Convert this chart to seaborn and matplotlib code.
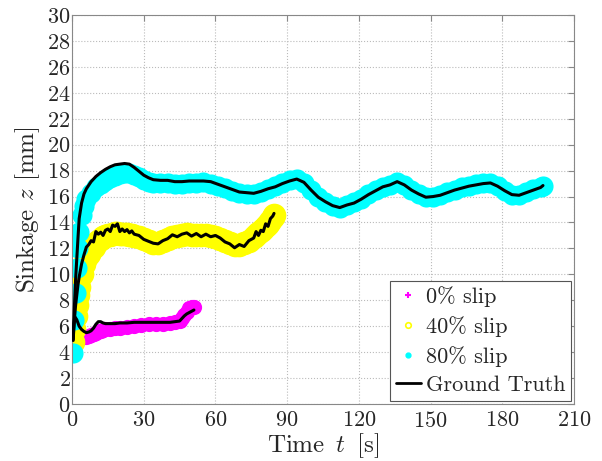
import matplotlib
matplotlib.use("Agg")
import matplotlib.pyplot as plt
from matplotlib.lines import Line2D
import seaborn as sns
import pandas as pd

# 0% slip
t_0 = [0.3, 0.8, 1.3, 2, 3, 4, 5, 6, 7, 8, 9, 10, 11, 12, 13, 14, 16, 18, 20, 23,
       26, 29, 32, 35, 38, 41, 43, 45, 46, 47, 48, 49, 50, 51]
gt_0 = [5.0, 6.2, 6.7, 6.5, 6.0, 5.75, 5.6, 5.5, 5.55, 5.65, 5.85, 6.15, 6.35, 6.35, 6.25, 6.2, 6.2, 6.2, 6.25, 6.25,
        6.3, 6.3, 6.3, 6.3, 6.3, 6.3, 6.35, 6.4, 6.6, 6.8, 6.95, 7.05, 7.15, 7.25]
est_0 = [5.2, 5.6, 5.7, 5.6, 5.35, 5.25, 5.2, 5.2, 5.25, 5.3, 5.4, 5.5, 5.6, 5.65, 5.7, 5.75, 5.8, 5.85, 5.9, 5.95,
         6.0, 6.1, 6.15, 6.2, 6.2, 6.25, 6.3, 6.4, 6.6, 6.85, 7.1, 7.4, 7.5, 7.5]

# 40% slip
t_40 = [0.5, 1, 1.5, 2, 2.5, 3, 4, 5, 6, 7, 8, 9, 10, 11, 12, 13, 14, 15, 16, 17,
        18, 19, 20, 21, 22, 23, 24, 25, 26, 28, 30, 32, 34, 36, 38, 40, 42, 44, 46, 48,
        50, 52, 54, 56, 58, 60, 62, 64, 66, 68, 70, 72, 74, 76, 77, 78, 79, 80, 81, 82,
        83, 84, 84.5]
gt_40 = [5.0, 6.5, 7.6, 8.4, 9.2, 9.8, 10.8, 11.5, 12.1, 12.3, 12.6, 12.5, 13.3, 13.1, 13.25, 13.0, 13.4, 13.5, 13.3, 13.8,
         13.7, 13.9, 13.3, 13.5, 13.3, 13.45, 13.2, 13.35, 13.1, 13.0, 12.7, 12.55, 12.4, 12.35, 12.6, 12.75, 13.05, 12.9, 13.1, 13.2,
         12.95, 13.15, 12.9, 13.1, 12.9, 13.0, 12.8, 12.5, 12.35, 12.05, 12.3, 12.15, 12.6, 12.8, 13.3, 13.0, 13.4, 13.3, 13.9, 13.7,
         14.3, 14.5, 14.7]
est_40 = [4.8, 5.8, 6.8, 7.6, 8.4, 9.0, 10.0, 10.8, 11.3, 11.6, 11.9, 12.1, 12.4, 12.6, 12.75, 12.85, 12.95, 13.0, 13.05, 13.15,
          13.2, 13.2, 13.15, 13.15, 13.1, 13.1, 13.05, 13.0, 12.95, 12.85, 12.7, 12.55, 12.45, 12.45, 12.55, 12.75, 12.9, 12.95, 13.05, 13.1,
          13.05, 13.05, 13.0, 13.0, 12.95, 12.9, 12.75, 12.6, 12.45, 12.3, 12.3, 12.4, 12.6, 12.9, 13.05, 13.2, 13.35, 13.5, 13.7, 13.9,
          14.1, 14.4, 14.6]

# 80% slip
t_80 = [0.5, 1, 1.5, 2, 2.5, 3, 4, 5, 6, 8,
        10, 12, 14, 16, 18, 20, 22, 24, 26, 28, 30, 32, 34,
        37, 40, 43, 46, 49, 52, 55, 58, 61, 64, 67, 70, 73, 76, 79, 82, 85, 88, 91, 94, 97, 100,
        103, 106, 109, 112, 115, 118, 121, 124, 127, 130, 133, 136, 139, 142, 145, 148, 151, 154, 157, 160,
        163, 166, 169, 172, 175, 178, 181, 184, 187, 190, 193, 196, 197]
gt_80 = [4.9, 7.5, 9.6, 11.2, 12.8, 14.3, 15.5, 16.2, 16.6, 17.15,
         17.55, 17.85, 18.1, 18.3, 18.45, 18.5, 18.55, 18.5, 18.25, 17.95, 17.65, 17.45, 17.3,
         17.25, 17.25, 17.15, 17.15, 17.2, 17.2, 17.2, 17.15, 16.95, 16.75, 16.55, 16.35, 16.3, 16.25, 16.4, 16.6, 16.75, 17.0, 17.2, 17.35, 17.1, 16.5,
         15.95, 15.6, 15.3, 15.15, 15.35, 15.5, 15.8, 16.15, 16.45, 16.75, 16.9, 17.15, 16.9, 16.5, 16.2, 15.95, 16.0, 16.1, 16.3, 16.5,
         16.65, 16.8, 16.9, 17.0, 17.05, 16.8, 16.45, 16.15, 16.1, 16.3, 16.5, 16.7, 16.85]
est_80 = [3.9, 6.5, 8.6, 10.5, 12.0, 13.3, 14.6, 15.3, 15.8, 16.3,
          16.7, 17.0, 17.2, 17.4, 17.6, 17.75, 17.85, 17.85, 17.7, 17.5, 17.3, 17.15, 17.05,
          17.05, 17.05, 17.0, 17.0, 17.05, 17.05, 17.1, 17.0, 16.85, 16.65, 16.45, 16.25, 16.2, 16.2, 16.35, 16.6, 16.8, 17.05, 17.25, 17.35, 17.05, 16.5,
          15.95, 15.6, 15.3, 15.15, 15.35, 15.55, 15.85, 16.2, 16.5, 16.75, 16.9, 17.1, 16.9, 16.5, 16.2, 16.0, 16.0, 16.15, 16.35, 16.5,
          16.7, 16.85, 16.95, 17.05, 17.05, 16.8, 16.45, 16.15, 16.15, 16.35, 16.55, 16.75, 16.8]

labels = ['0% slip', '40% slip', '80% slip', 'Ground Truth']

sns.set_style('white')
plt.rcParams['font.family'] = ['cmr10', 'DejaVu Serif']
plt.rcParams['mathtext.fontset'] = 'cm'
plt.rcParams['axes.formatter.use_mathtext'] = True

df0 = pd.DataFrame({'t': t_0, 'gt': gt_0, 'est': est_0})
df40 = pd.DataFrame({'t': t_40, 'gt': gt_40, 'est': est_40})
df80 = pd.DataFrame({'t': t_80, 'gt': gt_80, 'est': est_80})

fig = plt.figure(figsize=(6.02, 4.61), dpi=100)
ax = fig.add_axes([0.1196, 0.1236, 0.834, 0.8438])

# estimate clouds
sns.scatterplot(x='t', y='est', data=df0, color='#ff00ff', s=120, linewidth=0, ax=ax, zorder=2)
sns.scatterplot(x='t', y='est', data=df40, color='#ffff00', s=290, linewidth=0, ax=ax, zorder=2)
sns.scatterplot(x='t', y='est', data=df80, color='#00ffff', s=210, linewidth=0, ax=ax, zorder=2)

# ground truth
for d in [df0, df40, df80]:
    sns.lineplot(x='t', y='gt', data=d, color='black', linewidth=2.2, ax=ax, zorder=3)

ax.set_xlim(0, 210)
ax.set_ylim(0, 30)
ax.set_xticks(range(0, 211, 30))
ax.set_yticks(range(0, 31, 2))
ax.tick_params(direction='in', top=True, right=True, labelsize=16, length=4, color='#888888')
ax.tick_params(axis='x', pad=5)
ax.tick_params(axis='y', pad=1)
ax.grid(True, linestyle=':', color='#bbbbbb', linewidth=0.8)
for sp in ax.spines.values():
    sp.set_color('#888888')
ax.set_xlabel(r'Time $\,t\,$ [s]', fontsize=18, labelpad=0)
ax.set_ylabel(r'Sinkage $z$ [mm]', fontsize=18, labelpad=4)

handles = [
    Line2D([], [], linestyle='none', marker='+', color='#ff00ff', markersize=5, markeredgewidth=1.5),
    Line2D([], [], linestyle='none', marker='o', color='#ffff00', markerfacecolor='none', markersize=4, markeredgewidth=1.2),
    Line2D([], [], linestyle='none', marker='o', color='#00ffff', markersize=3.5),
    Line2D([], [], color='black', linewidth=2),
]
leg = ax.legend(handles, labels, loc='lower right', fontsize=16, frameon=True, fancybox=False,
                edgecolor='#555555', framealpha=1, borderaxespad=0.15, handlelength=1.15,
                handletextpad=0.2, labelspacing=0.4, borderpad=0.25)
leg.get_frame().set_linewidth(0.8)

fig.savefig('out.png', dpi=100)
